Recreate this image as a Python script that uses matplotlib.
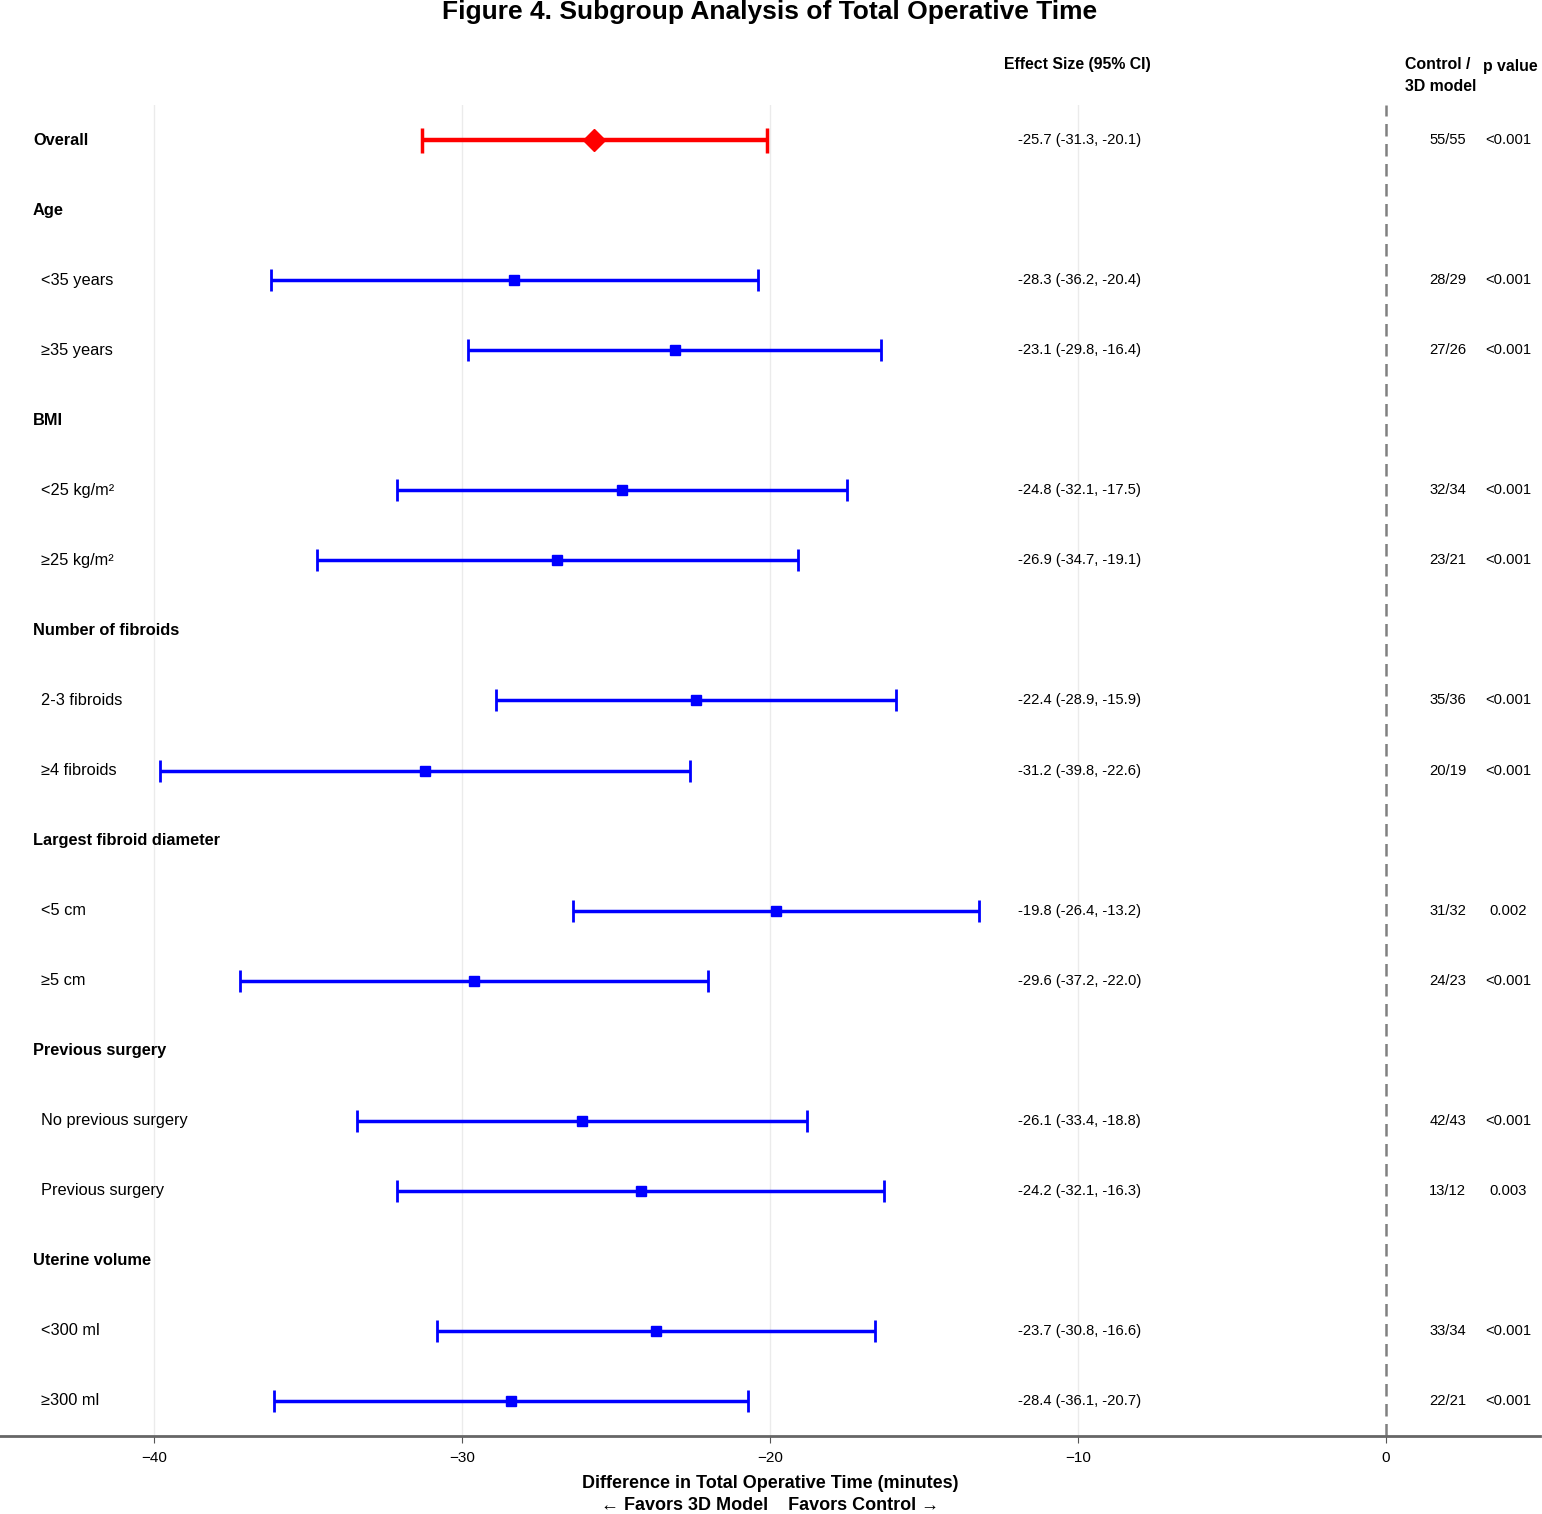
import matplotlib
matplotlib.use("Agg")
import matplotlib.pyplot as plt
from matplotlib import font_manager

# fonte estreita, parecida com a do original
nomes = {f.name for f in font_manager.fontManager.ttflist}
fonte = "Liberation Sans Narrow" if "Liberation Sans Narrow" in nomes else "Liberation Sans"
plt.rcParams["font.family"] = [fonte, "DejaVu Sans"]

# Dados do gráfico (linha a linha, de cima para baixo)
rotulos = ["Overall", "Age", "<35 years", "≥35 years", "BMI", "<25 kg/m²", "≥25 kg/m²",
           "Number of fibroids", "2-3 fibroids", "≥4 fibroids", "Largest fibroid diameter",
           "<5 cm", "≥5 cm", "Previous surgery", "No previous surgery", "Previous surgery",
           "Uterine volume", "<300 ml", "≥300 ml"]
tipo = ["overall", "header", "sub", "sub", "header", "sub", "sub", "header", "sub", "sub",
        "header", "sub", "sub", "header", "sub", "sub", "header", "sub", "sub"]
efeito = [-25.7, None, -28.3, -23.1, None, -24.8, -26.9, None, -22.4, -31.2, None,
          -19.8, -29.6, None, -26.1, -24.2, None, -23.7, -28.4]
ic_inf = [-31.3, None, -36.2, -29.8, None, -32.1, -34.7, None, -28.9, -39.8, None,
          -26.4, -37.2, None, -33.4, -32.1, None, -30.8, -36.1]
ic_sup = [-20.1, None, -20.4, -16.4, None, -17.5, -19.1, None, -15.9, -22.6, None,
          -13.2, -22.0, None, -18.8, -16.3, None, -16.6, -20.7]
n_grupos = ["55/55", None, "28/29", "27/26", None, "32/34", "23/21", None, "35/36", "20/19",
            None, "31/32", "24/23", None, "42/43", "13/12", None, "33/34", "22/21"]
p_valores = ["<0.001", None, "<0.001", "<0.001", None, "<0.001", "<0.001", None, "<0.001",
             "<0.001", None, "0.002", "<0.001", None, "<0.001", "0.003", None, "<0.001", "<0.001"]

fig = plt.figure(figsize=(15.42, 15.14), dpi=100)
ax = fig.add_axes([0.0, 1 - 1436 / 1514, 1540 / 1542, (1436 - 105) / 1514])

for i, rot in enumerate(rotulos):
    if tipo[i] == "header":
        ax.text(-43.93, i, rot, fontsize=11.8, fontweight="bold", va="center", ha="left")
        continue
    if tipo[i] == "overall":
        ax.text(-43.93, i, rot, fontsize=11.8, fontweight="bold", va="center", ha="left")
        ax.errorbar(efeito[i], i, xerr=[[efeito[i] - ic_inf[i]], [ic_sup[i] - efeito[i]]],
                    fmt="D", color="red", ms=11, elinewidth=3.2, capsize=9, capthick=2.5)
    else:
        ax.text(-43.67, i, rot, fontsize=11.8, va="center", ha="left")
        ax.errorbar(efeito[i], i, xerr=[[efeito[i] - ic_inf[i]], [ic_sup[i] - efeito[i]]],
                    fmt="s", color="blue", ms=7, elinewidth=2.5, capsize=8, capthick=2)
    ax.text(-11.95, i, f"{efeito[i]:.1f} ({ic_inf[i]:.1f}, {ic_sup[i]:.1f})",
            fontsize=10.6, va="center", ha="left")
    ax.text(2.6, i, n_grupos[i], fontsize=10.6, va="center", ha="right")
    ax.text(3.96, i, p_valores[i], fontsize=10.6, va="center", ha="center")

# cabeçalhos das colunas
ax.text(-12.4, -1.08, "Effect Size (95% CI)", fontsize=11.4, fontweight="bold", ha="left", va="center")
ax.text(0.62, -1.08, "Control /", fontsize=11.4, fontweight="bold", ha="left", va="center")
ax.text(0.62, -0.76, "3D model", fontsize=11.4, fontweight="bold", ha="left", va="center")
ax.text(4.05, -1.05, "p value", fontsize=11.4, fontweight="bold", ha="center", va="center")

ax.axvline(0, color="grey", ls=(0, (5, 3)), lw=1.8, zorder=1)
for g in [-40, -30, -20, -10]:
    ax.axvline(g, color="#ebebeb", lw=1, zorder=0)

ax.set_xlim(-45, 5)
ax.set_ylim(18.5, -0.5)
ax.set_yticks([])
ax.set_xticks([-40, -30, -20, -10, 0])
ax.set_xticklabels(["−40", "−30", "−20", "−10", "0"], fontsize=11)
ax.tick_params(axis="x", length=5, color="#555555", pad=6)
for lado in ["top", "right", "left"]:
    ax.spines[lado].set_visible(False)
ax.spines["bottom"].set_color("#666666")
ax.spines["bottom"].set_linewidth(2)

# rótulo do eixo x em duas linhas
fig.text(770 / 1542, 1 - 1484 / 1514, "Difference in Total Operative Time (minutes)",
         fontsize=13, fontweight="bold", ha="center", va="center")
fig.text(770 / 1542, 1 - 1506 / 1514, "← Favors 3D Model    Favors Control →",
         fontsize=13, fontweight="bold", ha="center", va="center")

fig.text(770 / 1542, 1 - 12 / 1514, "Figure 4. Subgroup Analysis of Total Operative Time",
         fontsize=19, fontweight="bold", ha="center", va="center")

fig.savefig("out.png", dpi=100, facecolor="white")
